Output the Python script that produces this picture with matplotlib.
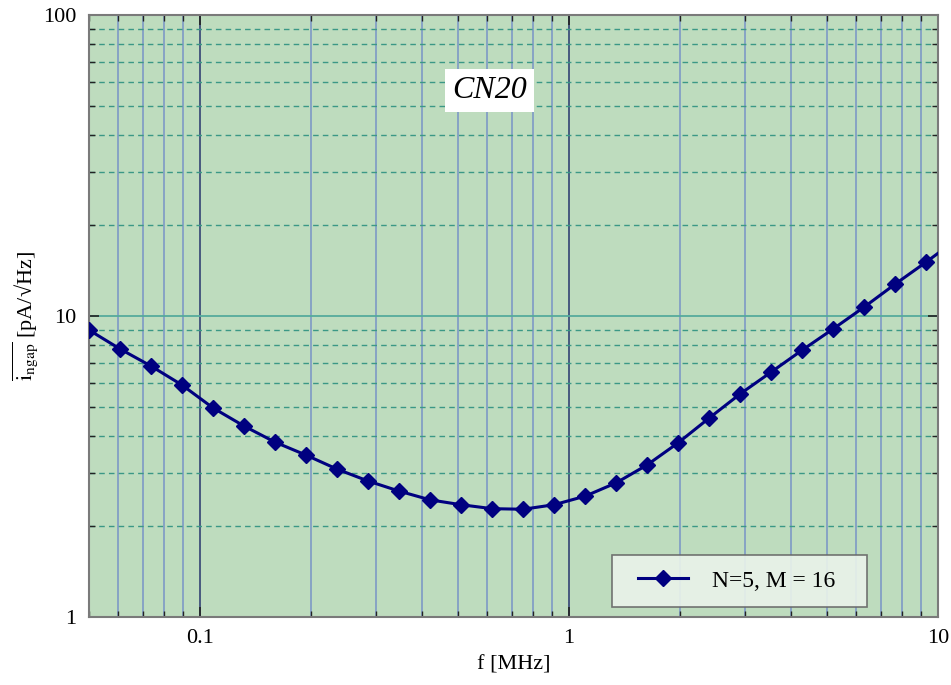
import matplotlib
matplotlib.use("Agg")
import matplotlib.pyplot as plt
from matplotlib.ticker import LogLocator, FixedLocator, NullFormatter, FixedFormatter
from matplotlib.legend_handler import HandlerLine2D

plt.rcParams['font.family'] = ['Liberation Serif', 'DejaVu Serif']
plt.rcParams['mathtext.fontset'] = 'stix'

# noise current vs frequency
freq = [0.050, 0.0607, 0.0736, 0.0893, 0.1084, 0.1315, 0.1596, 0.1937,
        0.2350, 0.2852, 0.346, 0.420, 0.510, 0.619, 0.751, 0.911, 1.106,
        1.342, 1.628, 1.976, 2.398, 2.91, 3.53, 4.29, 5.20, 6.31, 7.66,
        9.29, 11.27]
noise = [8.98, 7.77, 6.82, 5.90, 4.95, 4.31, 3.81, 3.45, 3.10, 2.83,
         2.62, 2.45, 2.36, 2.29, 2.28, 2.36, 2.52, 2.79, 3.20, 3.79,
         4.58, 5.51, 6.51, 7.71, 9.06, 10.71, 12.77, 15.11, 18.0]

x_ticks = [0.1, 1, 10]
x_labels = ["0.1", "1", "10"]
y_ticks = [1, 10, 100]
y_labels = ["1", "10", "100"]

fig = plt.figure(figsize=(9.51, 6.85), dpi=100)
ax = fig.add_axes([0.0936, 0.0993, 0.8927, 0.8788])
ax.set_facecolor('#bedcbe')

ax.set_xscale('log')
ax.set_yscale('log')
ax.set_xlim(0.05, 10)
ax.set_ylim(1, 100)

# grid
ax.xaxis.set_minor_locator(LogLocator(base=10, subs=range(2, 10)))
ax.yaxis.set_minor_locator(LogLocator(base=10, subs=range(2, 10)))
ax.grid(True, axis='x', which='major', color='#27366e', lw=1.1)
ax.grid(True, axis='x', which='minor', color='#7894c6', lw=1.1)
ax.grid(True, axis='y', which='major', color='#55ab9c', lw=1.3)
ax.grid(True, axis='y', which='minor', color='#3b9886', lw=1.0, ls=(0, (4, 3)))
ax.set_axisbelow(True)

line, = ax.plot(freq, noise, color='#000080', lw=2.2, marker='D', ms=8.5,
                label='N=5, M = 16', zorder=3)

ax.xaxis.set_major_locator(FixedLocator(x_ticks))
ax.xaxis.set_major_formatter(FixedFormatter(x_labels))
ax.xaxis.set_minor_formatter(NullFormatter())
ax.yaxis.set_major_locator(FixedLocator(y_ticks))
ax.yaxis.set_major_formatter(FixedFormatter(y_labels))
ax.yaxis.set_minor_formatter(NullFormatter())

ax.tick_params(which='both', direction='in', top=True, right=True,
               color='#222222', labelsize=16)
ax.tick_params(which='major', length=7, width=1.2, pad=9)
ax.tick_params(which='minor', length=4, width=1.0)

for s in ax.spines.values():
    s.set_color('#7a7a7a')
    s.set_linewidth(1.5)

ax.set_xlabel('f [MHz]', fontsize=16, labelpad=5)
ax.set_ylabel(r'$\overline{\mathrm{i}_{\mathrm{ngap}}}$ [pA/√Hz]',
              fontsize=16, labelpad=2)

ax.text(0.472, 0.875, 'CN20', transform=ax.transAxes, fontsize=23,
        style='italic', ha='center', va='center',
        bbox=dict(facecolor='white', edgecolor='none', pad=5))

leg = ax.legend(loc='lower left', bbox_to_anchor=(0.616, 0.0166, 0.3004, 0.1),
                mode='expand', borderaxespad=0, fontsize=17, frameon=True,
                fancybox=False, borderpad=0.65, handlelength=2.55,
                handletextpad=1.05,
                handler_map={line: HandlerLine2D(xpad=0.45)})
leg.get_frame().set_facecolor('#eaf3ea')
leg.get_frame().set_edgecolor('#666666')
leg.get_frame().set_alpha(0.9)
leg.get_frame().set_linewidth(1.2)

fig.savefig('out.png', dpi=100)
